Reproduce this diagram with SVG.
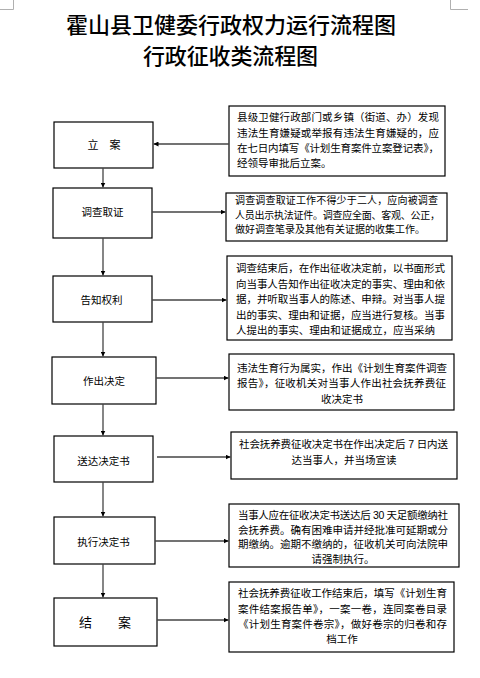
<svg xmlns="http://www.w3.org/2000/svg" width="480" height="678" viewBox="0 0 480 678">
<defs>
<marker id="ah" viewBox="0 0 10 10" refX="10" refY="5" markerWidth="5" markerHeight="5" orient="auto" markerUnits="userSpaceOnUse">
<path d="M0,0 L10,5 L0,10 z" fill="#000"/>
</marker>
<style>
.box{fill:#fff;stroke:#000;stroke-width:1.2}
.t{font-family:"Liberation Sans","Noto Sans CJK SC",sans-serif;fill:#000}
.title{font-family:"Noto Sans CJK SC",sans-serif;font-size:22px;fill:#000;font-weight:500}
.lbl{font-size:10.5px;text-anchor:middle}
.d{font-size:10.5px}
.c{text-anchor:middle}
.con{stroke:#444;stroke-width:1.3;fill:none;marker-end:url(#ah)}
.mark{stroke:#b0b0b0;stroke-width:1;fill:none}
</style>
</defs>
<rect width="480" height="678" fill="#fff"/>
<path class="mark" d="M13.5,0 V9.5 H0 M450.5,0 V9.5 H468"/>
<text class="title" x="66" y="33" textLength="330" lengthAdjust="spacing">霍山县卫健委行政权力运行流程图</text>
<text class="title" x="143" y="64" textLength="175" lengthAdjust="spacing">行政征收类流程图</text>

<g id="n1">
<rect class="box" x="54" y="122" width="99" height="46"/>
<text class="t lbl" x="104" y="149" style="font-size:11px">立　案</text>
</g>
<g id="d1">
<rect class="box" x="229" y="106" width="216" height="70"/>
<text class="t d" x="237" y="121" textLength="202">县级卫健行政部门或乡镇（街道、办）发现</text>
<text class="t d" x="237" y="136.5" textLength="202">违法生育嫌疑或举报有违法生育嫌疑的，应</text>
<text class="t d" x="237" y="152" textLength="202">在七日内填写《计划生育案件立案登记表》，</text>
<text class="t d" x="237" y="167">经领导审批后立案。</text>
</g>

<g id="n2">
<rect class="box" x="53" y="188" width="99" height="50"/>
<text class="t lbl" x="102.5" y="216">调查取证</text>
</g>
<g id="d2">
<rect class="box" x="226" y="193" width="221" height="48"/>
<text class="t d" x="235" y="204" textLength="203" style="font-size:10px">调查调查取证工作不得少于二人，应向被调查</text>
<text class="t d" x="235" y="218.5" textLength="205" style="font-size:10px">人员出示执法证件。调查应全面、客观、公正，</text>
<text class="t d" x="235" y="232.5" textLength="190" style="font-size:10px">做好调查笔录及其他有关证据的收集工作。</text>
</g>

<g id="n3">
<rect class="box" x="53" y="276" width="99" height="46"/>
<text class="t lbl" x="101.5" y="304">告知权利</text>
</g>
<g id="d3">
<rect class="box" x="227" y="256" width="225" height="84"/>
<text class="t d" x="236" y="272" textLength="209">调查结束后，在作出征收决定前，以书面形式</text>
<text class="t d" x="236" y="287.5" textLength="209">向当事人告知作出征收决定的事实、理由和依</text>
<text class="t d" x="236" y="303" textLength="209">据，并听取当事人的陈述、申辩。对当事人提</text>
<text class="t d" x="236" y="318.5" textLength="209">出的事实、理由和证据，应当进行复核。当事</text>
<text class="t d" x="236" y="334" textLength="199">人提出的事实、理由和证据成立，应当采纳</text>
</g>

<g id="n4">
<rect class="box" x="52" y="357" width="104" height="47"/>
<text class="t lbl" x="104" y="385">作出决定</text>
</g>
<g id="d4">
<rect class="box" x="229" y="354" width="225" height="56"/>
<text class="t d" x="237" y="371.5" textLength="210">违法生育行为属实，作出《计划生育案件调查</text>
<text class="t d" x="237" y="387" textLength="209">报告》，征收机关对当事人作出社会抚养费征</text>
<text class="t d c" x="342" y="402.5">收决定书</text>
</g>

<g id="n5">
<rect class="box" x="54" y="436" width="99" height="46"/>
<text class="t lbl" x="103.5" y="464.5">送达决定书</text>
</g>
<g id="d5">
<rect class="box" x="231" y="432" width="226" height="47"/>
<text class="t d" x="239" y="448" textLength="209">社会抚养费征收决定书在作出决定后 7 日内送</text>
<text class="t d c" x="344" y="464">达当事人，并当场宣读</text>
</g>

<g id="n6">
<rect class="box" x="54" y="517" width="101" height="47"/>
<text class="t lbl" x="103.5" y="545.5">执行决定书</text>
</g>
<g id="d6">
<rect class="box" x="229" y="504" width="230" height="63"/>
<text class="t d" x="238" y="519" textLength="210">当事人应在征收决定书送达后 30 天足额缴纳社</text>
<text class="t d" x="238" y="533.5" textLength="210">会抚养费。确有困难申请并经批准可延期或分</text>
<text class="t d" x="238" y="548" textLength="210">期缴纳。逾期不缴纳的，征收机关可向法院申</text>
<text class="t d c" x="343" y="562.5">请强制执行。</text>
</g>

<g id="n7">
<rect class="box" x="54" y="598" width="103" height="48"/>
<text class="t lbl" x="105" y="627" style="font-size:13px">结　　案</text>
</g>
<g id="d7">
<rect class="box" x="229" y="582" width="225" height="70"/>
<text class="t d" x="238" y="597" textLength="209">社会抚养费征收工作结束后，填写《计划生育</text>
<text class="t d" x="238" y="612.5" textLength="209">案件结案报告单》，一案一卷，连同案卷目录</text>
<text class="t d" x="238" y="628" textLength="209">《计划生育案件卷宗》，做好卷宗的归卷和存</text>
<text class="t d c" x="342" y="643">档工作</text>
</g>

<g id="connectors">
<line class="con" x1="229" y1="144" x2="153.5" y2="144"/>
<line class="con" x1="103" y1="168" x2="103" y2="187.5"/>
<line class="con" x1="152" y1="212" x2="225.5" y2="212"/>
<line class="con" x1="103" y1="238" x2="103" y2="275.5"/>
<line class="con" x1="152" y1="300" x2="226.5" y2="300"/>
<line class="con" x1="103" y1="322" x2="103" y2="356.5"/>
<line class="con" x1="156" y1="378" x2="228.5" y2="378"/>
<line class="con" x1="103" y1="404" x2="103" y2="435.5"/>
<line class="con" x1="157" y1="457" x2="230.5" y2="457"/>
<line class="con" x1="103" y1="482" x2="103" y2="516.5"/>
<line class="con" x1="155" y1="541" x2="228.5" y2="541"/>
<line class="con" x1="103" y1="564" x2="103" y2="597.5"/>
<line class="con" x1="157" y1="620" x2="228.5" y2="620"/>
</g>
</svg>
